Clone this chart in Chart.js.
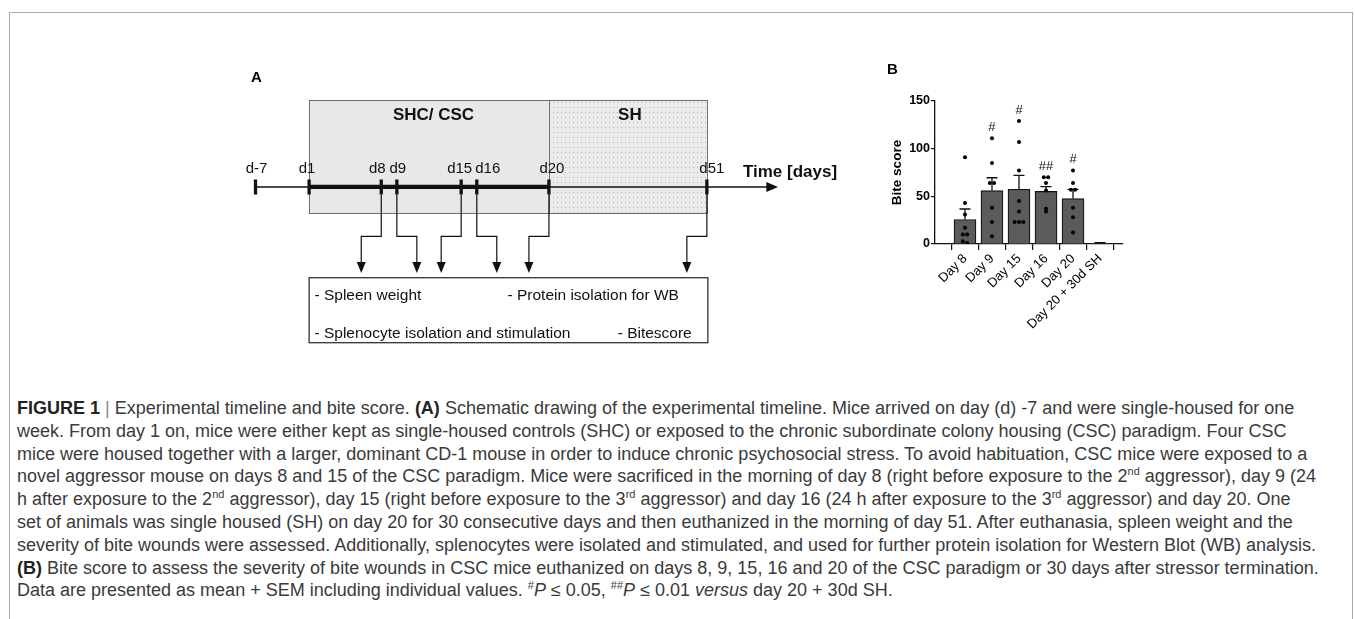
<!DOCTYPE html>
<html>
<head>
<meta charset="utf-8">
<title>Figure 1</title>
<script src="https://cdn.jsdelivr.net/npm/chart.js@4.4.1/dist/chart.umd.min.js"></script>
<style>
  html, body { margin: 0; padding: 0; background: #fff; }
  body { width: 1355px; height: 619px; overflow: hidden; position: relative; }
  #frame { position: absolute; left: 9px; top: 12px; width: 1344px; height: 800px; border: 1px solid #a9a9a9; box-sizing: border-box; }
  canvas { position: absolute; }
  #timeline { left: 0; top: 0; }
  #bites { left: 860px; top: 50px; }
  #caption { position: absolute; left: 17px; top: 397px; font-family: "Liberation Sans", Arial, sans-serif; font-size: 18px; line-height: 22.8px; color: #3a3a3a; white-space: nowrap; }
  #caption b { color: #222; }
  #caption .bar { color: #888; }
  #caption sup { font-size: 11px; line-height: 0; vertical-align: 7px; }
</style>
</head>
<body>
<div id="frame"></div>
<canvas id="timeline" width="860" height="370"></canvas>
<canvas id="bites" width="280" height="290"></canvas>
<div id="caption">
<div><b>FIGURE 1</b> <span class="bar">|</span> Experimental timeline and bite score. <b>(A)</b> Schematic drawing of the experimental timeline. Mice arrived on day (d) -7 and were single-housed for one</div>
<div>week. From day 1 on, mice were either kept as single-housed controls (SHC) or exposed to the chronic subordinate colony housing (CSC) paradigm. Four CSC</div>
<div>mice were housed together with a larger, dominant CD-1 mouse in order to induce chronic psychosocial stress. To avoid habituation, CSC mice were exposed to a</div>
<div>novel aggressor mouse on days 8 and 15 of the CSC paradigm. Mice were sacrificed in the morning of day 8 (right before exposure to the 2<sup>nd</sup> aggressor), day 9 (24</div>
<div>h after exposure to the 2<sup>nd</sup> aggressor), day 15 (right before exposure to the 3<sup>rd</sup> aggressor) and day 16 (24 h after exposure to the 3<sup>rd</sup> aggressor) and day 20. One</div>
<div>set of animals was single housed (SH) on day 20 for 30 consecutive days and then euthanized in the morning of day 51. After euthanasia, spleen weight and the</div>
<div>severity of bite wounds were assessed. Additionally, splenocytes were isolated and stimulated, and used for further protein isolation for Western Blot (WB) analysis.</div>
<div><b>(B)</b> Bite score to assess the severity of bite wounds in CSC mice euthanized on days 8, 9, 15, 16 and 20 of the CSC paradigm or 30 days after stressor termination.</div>
<div>Data are presented as mean + SEM including individual values. <sup>#</sup><i>P</i> ≤ 0.05, <sup>##</sup><i>P</i> ≤ 0.01 <i>versus</i> day 20 + 30d SH.</div>
</div>
<script>
// timeline (panel A)
var timelineLabels = ['d-7', 'd1', 'd8', 'd9', 'd15', 'd16', 'd20', 'd51'];
var timelineDays = [-7, 1, 8, 9, 15, 16, 20, 51];
var sampleDays = [8, 9, 15, 16, 20, 51];
var phaseLabels = ['SHC/ CSC', 'SH'];
var phaseStart = [1, 20];
var phaseEnd = [20, 51];
var readoutsLeft = ['- Spleen weight', '- Splenocyte isolation and stimulation'];
var readoutsRight = ['- Protein isolation for WB', '- Bitescore'];

// bite score (panel B)
var groups = ['Day 8', 'Day 9', 'Day 15', 'Day 16', 'Day 20', 'Day 20 + 30d SH'];
var biteMean = [25.7, 56.0, 57.4, 55.2, 47.6, 0.6];
var biteSem = [11.0, 13.5, 14.6, 5.0, 9.7, 0.8];
var day8 = [91, 43, 31, 17, 10, 10, 3, 1];
var day9 = [111, 85, 64, 64, 38, 23, 8];
var day15 = [129, 107, 77, 45, 34, 23, 23, 23];
var day16 = [70, 70, 64, 56, 37, 34];
var day20 = [77, 64, 57, 57, 38, 28, 12];
var day20sh = [];
var sigMarks = ['', '#', '#', '##', '#', ''];
var yTicks = [0, 50, 100, 150];

var FONT = '"Liberation Sans", Arial, Helvetica, sans-serif';
Chart.defaults.font.family = FONT;

// ---- panel A layout (schematic, not to scale) ----
var DAY_PX = { '-7': 251, '1': 306, '8': 380, '9': 396, '15': 462, '16': 478, '20': 552, '51': 714 };
var LABEL_SHIFT = { '-7': 1, '1': -2, '8': -4, '9': 1, '15': -1.5, '16': 11, '20': 3, '51': 5 };
var ARROW_DIR = { '8': -1, '9': 1, '15': -1, '16': 1, '20': -1, '51': -1 };
var PHASE_SHIFT = [4.5, 2];
var TL_Y = 187;

function dotPattern(ctx) {
    var c = document.createElement('canvas');
    c.width = 4; c.height = 5;
    var p = c.getContext('2d');
    p.fillStyle = '#ebebeb';
    p.fillRect(0, 0, 4, 5);
    p.fillStyle = '#b4b4b4';
    p.fillRect(1, 2, 1, 1);
    return ctx.createPattern(c, 'repeat');
}

function arrowDown(ctx, x, tipY) {
    ctx.beginPath();
    ctx.moveTo(x, tipY);
    ctx.lineTo(x - 4.5, tipY - 11);
    ctx.lineTo(x + 4.5, tipY - 11);
    ctx.closePath();
    ctx.fill();
}

var timelinePlugin = {
    id: 'timelineDrawing',
    beforeDatasetsDraw: function(chart) {
        var ctx = chart.ctx;
        var X = function(v) { return chart.scales.x.getPixelForValue(v); };
        var Y = function(v) { return chart.scales.y.getPixelForValue(v); };
        ctx.save();

        // panel letter
        ctx.fillStyle = '#000';
        ctx.font = 'bold 15px ' + FONT;
        ctx.textAlign = 'center';
        ctx.textBaseline = 'middle';
        ctx.fillText('A', X(252), Y(71));

        // housing phases
        phaseLabels.forEach(function(lab, i) {
            var x0 = X(DAY_PX[phaseStart[i]]), x1 = X(DAY_PX[phaseEnd[i]]);
            var y0 = Y(94.5), y1 = Y(215);
            ctx.fillStyle = i === 0 ? '#e8e8e8' : dotPattern(ctx);
            ctx.fillRect(x0, y0, x1 - x0, y1 - y0);
            ctx.strokeStyle = '#6f6f6f';
            ctx.lineWidth = 1;
            ctx.strokeRect(Math.round(x0) + 0.5, Math.round(y0) + 0.5, Math.round(x1 - x0), Math.round(y1 - y0));
            ctx.fillStyle = '#111';
            ctx.font = 'bold 17px ' + FONT;
            ctx.textAlign = 'center';
            ctx.textBaseline = 'middle';
            ctx.fillText(lab, (x0 + x1) / 2 + PHASE_SHIFT[i], Y(111));
        });

        // time axis
        var y = Y(TL_Y);
        ctx.strokeStyle = '#111';
        ctx.fillStyle = '#111';
        ctx.lineWidth = 1.5;
        ctx.beginPath();
        ctx.moveTo(X(DAY_PX['-7']), y);
        ctx.lineTo(X(778), y);
        ctx.stroke();
        ctx.lineWidth = 4.3;
        ctx.beginPath();
        ctx.moveTo(X(DAY_PX['1']), y);
        ctx.lineTo(X(DAY_PX['20']), y);
        ctx.stroke();
        ctx.beginPath();
        ctx.moveTo(X(787), y);
        ctx.lineTo(X(775), y - 5);
        ctx.lineTo(X(775), y + 5);
        ctx.closePath();
        ctx.fill();

        ctx.font = 'bold 17px ' + FONT;
        ctx.textAlign = 'left';
        ctx.textBaseline = 'alphabetic';
        ctx.fillText('Time [days]', X(751), Y(176));

        // day labels
        ctx.font = '15px ' + FONT;
        ctx.textAlign = 'center';
        timelineDays.forEach(function(d, i) {
            ctx.fillText(timelineLabels[i], X(DAY_PX[d]) + LABEL_SHIFT[d], Y(172.5));
        });

        // connectors to read-out box
        ctx.lineWidth = 1.2;
        sampleDays.forEach(function(d) {
            var x = X(DAY_PX[d]), x2 = x + ARROW_DIR[d] * 20;
            ctx.beginPath();
            ctx.moveTo(x, Y(195));
            ctx.lineTo(x, Y(239.5));
            ctx.lineTo(x2, Y(239.5));
            ctx.lineTo(x2, Y(268));
            ctx.stroke();
            arrowDown(ctx, x2, Y(278.5));
        });

        // read-out box
        var bx0 = X(DAY_PX['1']), bx1 = X(DAY_PX['51']) + 1;
        ctx.fillStyle = '#fff';
        ctx.fillRect(bx0, Y(283.5), bx1 - bx0, Y(352.5) - Y(283.5));
        ctx.strokeStyle = '#222';
        ctx.lineWidth = 1.2;
        ctx.strokeRect(bx0, Y(283.5), bx1 - bx0, Y(352.5) - Y(283.5));
        ctx.fillStyle = '#111';
        ctx.font = '15.5px ' + FONT;
        ctx.textAlign = 'left';
        ctx.fillText(readoutsLeft[0], X(311.5), Y(307));
        ctx.fillText(readoutsLeft[1], X(311.5), Y(347));
        ctx.fillText(readoutsRight[0], X(509.5), Y(307));
        ctx.fillText(readoutsRight[1], X(622.5), Y(347));
        ctx.restore();
    }
};

new Chart(document.getElementById('timeline'), {
    type: 'scatter',
    data: {
        datasets: [{
            data: timelineDays.map(function(d) { return { x: DAY_PX[d], y: TL_Y }; }),
            pointStyle: 'line',
            rotation: 90,
            radius: 7.5,
            borderWidth: 3.3,
            borderColor: '#111',
            backgroundColor: '#111'
        }]
    },
    options: {
        responsive: false,
        animation: false,
        events: [],
        layout: { padding: 0 },
        plugins: { legend: { display: false }, tooltip: { enabled: false } },
        scales: {
            x: { type: 'linear', display: false, min: 0, max: 860 },
            y: { type: 'linear', display: false, min: 0, max: 370, reverse: true }
        }
    },
    plugins: [timelinePlugin]
});

// ---- panel B ----
var individual = [day8, day9, day15, day16, day20, day20sh];

function spread(vals, i) {
    var s = vals.slice().sort(function(a, b) { return b - a; });
    var out = [];
    var k = 0;
    while (k < s.length) {
        var j = k;
        while (j + 1 < s.length && s[k] - s[j + 1] < 3) j++;
        var n = j - k + 1;
        for (var m = 0; m < n; m++) {
            out.push({ x: i + (m - (n - 1) / 2) * 0.16, y: s[k + m] });
        }
        k = j + 1;
    }
    return out;
}

var dots = [];
individual.forEach(function(v, i) { dots = dots.concat(spread(v, i)); });

var errorBars = {
    id: 'errorBars',
    afterDatasetDraw: function(chart, args) {
        if (args.index !== 0) return;
        var ctx = chart.ctx, xs = chart.scales.x, ys = chart.scales.y;
        ctx.save();
        ctx.strokeStyle = '#111';
        ctx.lineWidth = 1.3;
        biteMean.forEach(function(m, i) {
            var x = xs.getPixelForValue(i);
            var yt = ys.getPixelForValue(m + biteSem[i]);
            ctx.beginPath();
            ctx.moveTo(x, ys.getPixelForValue(m));
            ctx.lineTo(x, yt);
            ctx.moveTo(x - 5.5, yt);
            ctx.lineTo(x + 5.5, yt);
            ctx.stroke();
        });
        ctx.restore();
    },
    afterDatasetsDraw: function(chart) {
        var ctx = chart.ctx, xs = chart.scales.x, ys = chart.scales.y;
        ctx.save();
        ctx.fillStyle = '#111';
        ctx.font = '13px ' + FONT;
        ctx.textAlign = 'center';
        ctx.textBaseline = 'middle';
        sigMarks.forEach(function(s, i) {
            if (!s) return;
            var top = individual[i].length ? Math.max.apply(null, individual[i]) : biteMean[i] + biteSem[i];
            ctx.fillText(s, xs.getPixelForValue(i), ys.getPixelForValue(top) - 11);
        });
        ctx.fillStyle = '#000';
        ctx.font = 'bold 15px ' + FONT;
        ctx.fillText('B', 32.5, 19.5);
        ctx.restore();
    }
};

new Chart(document.getElementById('bites'), {
    type: 'bar',
    data: {
        datasets: [{
            type: 'bar',
            data: biteMean.map(function(v, i) { return { x: i, y: v }; }),
            backgroundColor: '#5b5b5b',
            borderColor: '#111',
            borderWidth: 1.2,
            barThickness: 22,
            order: 2
        }, {
            type: 'scatter',
            data: dots,
            pointRadius: 2,
            pointBackgroundColor: '#000',
            pointBorderWidth: 0,
            order: 1
        }]
    },
    options: {
        responsive: false,
        animation: false,
        events: [],
        layout: { padding: { left: 29, top: 51, right: 17.3, bottom: 0 } },
        plugins: { legend: { display: false }, tooltip: { enabled: false } },
        scales: {
            x: {
                type: 'linear',
                min: -1.11,
                max: 5.84,
                offset: false,
                afterBuildTicks: function(s) { s.ticks = groups.map(function(g, i) { return { value: i }; }); },
                afterFit: function(s) { s.height = 96; },
                ticks: {
                    autoSkip: false,
                    minRotation: 45,
                    maxRotation: 45,
                    padding: 1,
                    color: '#000',
                    font: { size: 13 },
                    callback: function(v) { return groups[v]; }
                },
                grid: { drawOnChartArea: false, drawTicks: true, tickLength: 6, color: '#111', lineWidth: 1.2 },
                border: { display: true, color: '#111', width: 1.3 }
            },
            y: {
                min: 0,
                max: 150,
                afterBuildTicks: function(s) { s.ticks = yTicks.map(function(v) { return { value: v }; }); },
                afterFit: function(s) { s.width = 46; },
                ticks: { padding: 1, color: '#000', font: { size: 12.5, weight: 'bold' } },
                grid: { drawOnChartArea: false, drawTicks: true, tickLength: 4, color: '#111', lineWidth: 1.2 },
                border: { display: true, color: '#111', width: 1.3 },
                title: { display: true, text: 'Bite score', color: '#000', padding: 0, font: { size: 13.5, weight: 'bold' } }
            }
        }
    },
    plugins: [errorBars]
});
</script>
</body>
</html>
